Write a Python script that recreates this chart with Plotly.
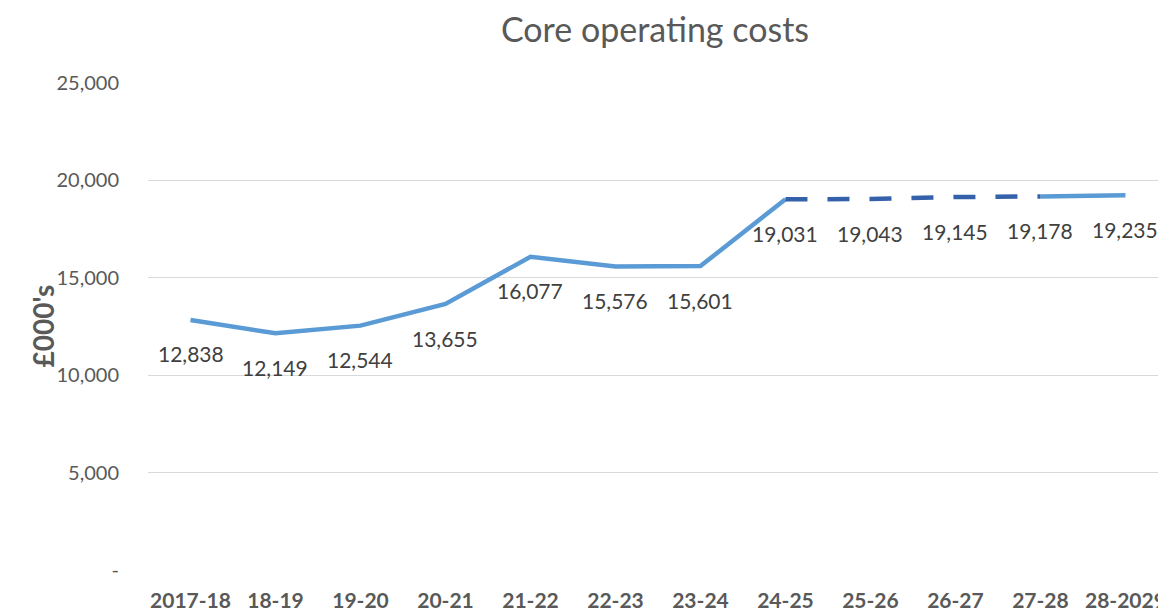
import plotly.graph_objects as go

categories = ["2017-18", "18-19", "19-20", "20-21", "21-22", "22-23", "23-24",
              "24-25", "25-26", "26-27", "27-28", "28-2029"]
costs = [12838, 12149, 12544, 13655, 16077, 15576, 15601,
         19031, 19043, 19145, 19178, 19235]
# segments: solid actuals, dashed forecast, solid final
dashed_from, dashed_to = 7, 10

ytick_vals = [0, 5000, 10000, 15000, 20000, 25000]
ytick_text = ["-", "5,000", "10,000", "15,000", "20,000", "25,000"]

FONT = "Lato"
GREY = "#595959"
W, H = 1158, 604  # page body has an 8px margin

x_idx = list(range(len(categories)))
solid_x = []
solid_y = []
for i, v in enumerate(costs):
    if i <= dashed_from or i >= dashed_to:
        solid_x.append(i)
        solid_y.append(v)
    if i == dashed_from:
        solid_x.append(i + 0.5)
        solid_y.append(None)

dash_x = [i for i in x_idx if dashed_from <= i <= dashed_to]
dash_y = [costs[i] for i in dash_x]

fig = go.Figure()
fig.add_trace(go.Scatter(x=solid_x, y=solid_y, mode="lines",
                         line=dict(color="#5B9BD5", width=4.5),
                         connectgaps=False, hoverinfo="skip", showlegend=False))
fig.add_trace(go.Scatter(x=dash_x, y=dash_y, mode="lines",
                         line=dict(color="#3461AA", width=4.5, dash="22px,20px"),
                         hoverinfo="skip", showlegend=False))

for i, v in enumerate(costs):
    fig.add_annotation(x=i, y=v, text=f"{v:,}", showarrow=False, yshift=-34,
                       font=dict(family=FONT, size=21, color="#404040"))

fig.add_annotation(xref="paper", yref="paper", x=0, y=0.5, xshift=-125,
                   text="<b>£000's</b>", textangle=-90, showarrow=False,
                   font=dict(family=FONT, size=28, color=GREY))

fig.update_layout(
    width=W, height=H,
    margin=dict(l=140, r=0, t=75, b=38),
    paper_bgcolor="white", plot_bgcolor="white",
    title=dict(text="Core operating costs", x=0.5, xref="paper", xanchor="center",
               y=1 - 22 / H, yanchor="middle",
               font=dict(family=FONT, size=34, color=GREY)),
    xaxis=dict(range=[-0.5, 11.43], tickmode="array", tickvals=x_idx,
               ticktext=[f"<b>{c}</b>" for c in categories],
               showgrid=False, zeroline=False, showline=False, ticks="",
               ticklabelstandoff=16, ticklabeloverflow="allow",
               tickfont=dict(family=FONT, size=21, color=GREY)),
    yaxis=dict(range=[0, 25000], tickmode="array", tickvals=ytick_vals,
               ticktext=ytick_text, showgrid=True, gridcolor="#D9D9D9",
               gridwidth=1, zeroline=False, showline=False, ticks="",
               ticklabelstandoff=28,
               tickfont=dict(family=FONT, size=20, color=GREY)),
)

fig.write_html("out.html")
